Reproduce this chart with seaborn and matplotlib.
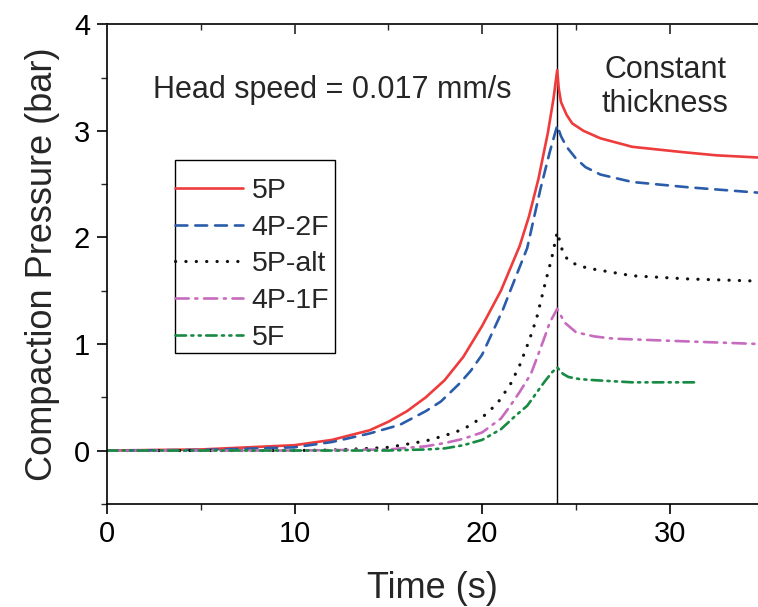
import matplotlib
matplotlib.use("Agg")
import matplotlib.pyplot as plt
import seaborn as sns
import pandas as pd
from matplotlib.ticker import MultipleLocator
from matplotlib.patches import Rectangle

# ---- data ----
t_5P = [0, 5, 10, 12, 14, 15, 16, 17, 18, 19, 20, 21, 22, 22.5, 23, 23.5, 23.8, 24,
        24.08, 24.2, 24.5, 24.8, 25.4, 26.3, 28, 30.7, 32.5, 34.7]
p_5P = [0, 0.01, 0.05, 0.1, 0.19, 0.27, 0.37, 0.5, 0.66, 0.88, 1.17, 1.5, 1.92, 2.2, 2.55, 2.98, 3.3, 3.57,
        3.4, 3.27, 3.15, 3.07, 3.0, 2.93, 2.85, 2.8, 2.77, 2.75]

t_4P2F = [0, 5, 10, 12, 14, 15.6, 17, 17.8, 18.8, 19.4, 20, 21.1, 21.5, 22.4, 23.1, 23.6, 24,
          24.2, 24.5, 25, 25.5, 26.3, 28, 31, 34.7]
p_4P2F = [0, 0.005, 0.03, 0.08, 0.16, 0.24, 0.37, 0.46, 0.63, 0.75, 0.9, 1.32, 1.5, 1.9, 2.45, 2.8, 3.05,
          2.95, 2.85, 2.74, 2.66, 2.59, 2.52, 2.47, 2.42]

t_5Palt = [0, 10, 12, 14, 15, 16, 17, 18, 19, 20, 20.8, 21.5, 22, 22.5, 22.9, 23.4, 23.7, 24,
           24.3, 24.6, 25.2, 26, 28, 31, 34.7]
p_5Palt = [0, 0, 0.005, 0.02, 0.03, 0.06, 0.09, 0.14, 0.2, 0.31, 0.44, 0.62, 0.8, 1.03, 1.24, 1.6, 1.8, 2.05,
           1.86, 1.78, 1.73, 1.7, 1.64, 1.61, 1.59]

t_4P1F = [0, 10, 15, 17, 18, 19, 20, 21, 21.5, 22, 22.6, 22.9, 23.3, 23.6, 24,
          24.4, 25, 26, 27, 30, 34.7]
p_4P1F = [0, 0, 0.01, 0.04, 0.07, 0.11, 0.17, 0.3, 0.42, 0.55, 0.72, 0.86, 1.05, 1.2, 1.33,
          1.2, 1.11, 1.07, 1.05, 1.03, 1.0]

t_5F = [0, 10, 15, 17, 18, 19, 20, 21, 21.8, 22.4, 23.3, 23.7, 24,
        24.3, 24.6, 25.2, 26, 28, 31.5]
p_5F = [0, 0, 0, 0.01, 0.02, 0.05, 0.1, 0.2, 0.33, 0.42, 0.64, 0.73, 0.78,
        0.72, 0.69, 0.67, 0.66, 0.64, 0.64]

labels = ["5P", "4P-2F", "5P-alt", "4P-1F", "5F"]

# ---- styling ----
sns.set_style("ticks")
plt.rcParams["font.family"] = ["Liberation Sans", "DejaVu Sans"]

series = [(t_5P, p_5P), (t_4P2F, p_4P2F), (t_5Palt, p_5Palt), (t_4P1F, p_4P1F), (t_5F, p_5F)]
colors = ["#EE3B3B", "#2A5CAA", "#111111", "#C76BBE", "#178A43"]
widths = [1.9, 1.9, 2.3, 1.9, 1.9]
dashes = [None, (4.5, 3.0), (0.05, 3.2), (5.0, 2.5, 0.8, 2.5), (4.0, 2.0, 0.8, 2.0, 0.8, 2.0)]

fig = plt.figure(figsize=(7.58, 6.07), dpi=100)
ax = fig.add_axes([0.141, 0.170, 0.859, 0.790])

for (t, p), lab, c, d, w in zip(series, labels, colors, dashes, widths):
    df = pd.DataFrame({"Time": t, "Pressure": p})
    sns.lineplot(data=df, x="Time", y="Pressure", ax=ax, color=c, label=lab,
                 linewidth=w, estimator=None, sort=False)
    ln = ax.get_lines()[-1]
    if d is not None:
        ln.set_dashes(d)
        ln.set_dash_capstyle("round")

ax.axvline(24, color="black", linewidth=1.0, zorder=1)

ax.set_xlim(0, 34.7)
ax.set_ylim(-0.5, 4)
ax.xaxis.set_major_locator(MultipleLocator(10))
ax.xaxis.set_minor_locator(MultipleLocator(5))
ax.yaxis.set_major_locator(MultipleLocator(1))
ax.yaxis.set_minor_locator(MultipleLocator(0.5))

for side in ["left", "bottom", "top"]:
    ax.spines[side].set_visible(True)
    ax.spines[side].set_linewidth(1.2)
    ax.spines[side].set_color("black")
ax.spines["right"].set_visible(False)

ax.tick_params(axis="both", which="major", direction="out", length=7, width=1.2,
               labelsize=21, colors="black", pad=5)
ax.tick_params(axis="both", which="minor", direction="out", length=4, width=1.0)

ax2 = ax.twiny()
ax2.set_xlim(ax.get_xlim())
ax2.xaxis.set_major_locator(MultipleLocator(10))
ax2.xaxis.set_minor_locator(MultipleLocator(5))
ax2.tick_params(axis="x", which="major", direction="in", length=7, width=1.2, labeltop=False)
ax2.tick_params(axis="x", which="minor", direction="in", length=4, width=1.0)
for s in ax2.spines.values():
    s.set_visible(False)

ax.set_xlabel("Time (s)", fontsize=26, labelpad=16)
ax.set_ylabel("Compaction Pressure (bar)", fontsize=26, labelpad=10)

ax.text(2.45, 3.38, "Head speed = 0.017 mm/s", fontsize=22, va="center", ha="left")
ax.text(29.75, 3.41, "Constant\nthickness", fontsize=22, va="center", ha="center",
        linespacing=1.2)

leg = ax.legend(loc="upper left", bbox_to_anchor=(0.1045, 0.680), fontsize=20.5,
                frameon=False, handlelength=2.4, handletextpad=0.3,
                borderaxespad=0, borderpad=0, labelspacing=0.38)
ax.add_patch(Rectangle((0.1045, 0.3146), 0.2457, 0.4021, transform=ax.transAxes,
                       fill=False, edgecolor="black", linewidth=1.0, zorder=5))

fig.savefig("out.png", dpi=100)
